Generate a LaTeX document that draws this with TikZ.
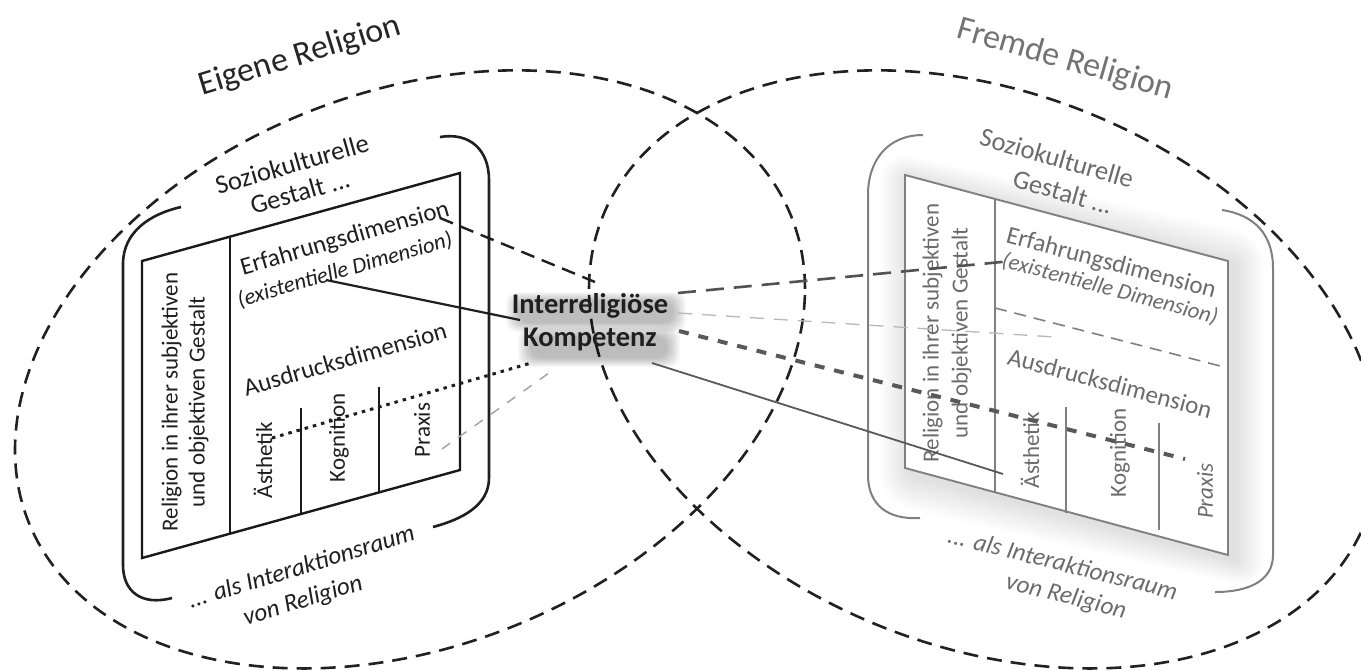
\documentclass[tikz,border=0pt]{standalone}
\usepackage{fontspec}
\setmainfont{Carlito}
\usetikzlibrary{calc}
\begin{document}
\begin{tikzpicture}[x=1pt,y=-1pt,
  ell/.style={draw=black!87, line width=2.6pt, dash pattern=on 15pt off 9pt},
  lline/.style={draw=black!90, line width=2.4pt},
  rline/.style={draw=black!50, line width=1.9pt},
  lbr/.style={draw=black!88, line width=2.6pt},
  rbr/.style={draw=black!50, line width=2pt},
  ltx/.style={inner sep=0pt, text=black!88, font=\fontsize{25}{27}\selectfont},
  rtx/.style={inner sep=0pt, text=black!58, font=\fontsize{25}{27}\selectfont},
  lit/.style={ltx, font=\fontsize{22.5}{24}\selectfont\itshape},
  rit/.style={rtx, font=\fontsize{22.5}{24}\selectfont\itshape},
  lvt/.style={ltx, rotate=90, align=center, font=\fontsize{23}{27}\selectfont},
  rvt/.style={rtx, rotate=90, align=center, font=\fontsize{23}{29}\selectfont},
  ttl/.style={inner sep=0pt, font=\fontsize{34}{36}\selectfont},
  ikt/.style={inner sep=0pt, align=center, font=\fontsize{28.5}{33}\selectfont\bfseries},
  solidc/.style={line width=2.2pt, draw=black!88},
  dashc/.style={line width=2.4pt, draw=black!88, dash pattern=on 14pt off 8pt},
  dotc/.style={line width=3pt, draw=black!88, dash pattern=on 3.5pt off 5pt},
  lgdash/.style={line width=1.5pt, draw=black!35, dash pattern=on 10pt off 10pt},
  rdash/.style={line width=2.6pt, draw=black!68, dash pattern=on 18pt off 10pt},
  rthin/.style={line width=1.3pt, draw=black!28, dash pattern=on 14pt off 10pt},
  rthick/.style={line width=4pt, draw=black!65, dash pattern=on 10pt off 10pt},
  rsolid/.style={line width=1.8pt, draw=black!65},
]
\useasboundingbox (0,0) rectangle (1361,670);
\clip (0,0) rectangle (1361,670);
\fill[white] (0,0) rectangle (1361,670);

% ---------- right box shadow ----------
\coordinate (rTL) at (905,175);
\coordinate (rTR) at (1228,261);
\coordinate (rBR) at (1228,555);
\coordinate (rBL) at (905,468);
\foreach \r in {3,6,...,30}{
  \fill[black, opacity=0.013, rounded corners=\r pt]
    ($(rTL)+(-\r+6,-\r+5)$) -- ($(rTR)+(\r+6,-\r+5)$) --
    ($(rBR)+(\r+6,\r+5)$) -- ($(rBL)+(-\r+6,\r+5)$) -- cycle;
}
\fill[white] (rTL) -- (rTR) -- (rBR) -- (rBL) -- cycle;

% ---------- ellipses ----------
\draw[ell] plot[domain=0:360, samples=200, smooth, variable=\t]
  ({410+395*cos(\t)},{369.4-80.6*cos(\t)-288*sin(\t)});
\draw[ell] plot[domain=0:360, samples=200, smooth, variable=\t]
  ({984-395*cos(\t)},{369.4-80.6*cos(\t)-288*sin(\t)});

% ---------- titles ----------
\node[ttl, text=black!85, rotate=17] (eig) at (300,56) {Eigene Religion};
\node[ttl, text=black!55, rotate=-16] (fre) at (1065,60) {Fremde Religion};

% ---------- left brackets ----------
\draw[lbr] (181,207) .. controls (150,214) and (123,232) .. (123,264)
  -- (123,565) .. controls (123,592) and (142,606) .. (172,598);
\draw[lbr] (440,137) .. controls (470,132) and (489,150) .. (489,180)
  -- (489,478) .. controls (489,505) and (463,519) .. (433,527);

% ---------- left table ----------
\coordinate (lTL) at (142,261);
\coordinate (lTR) at (460,173);
\coordinate (lBR) at (460,470);
\coordinate (lBL) at (142,558);
\draw[lline] (lTL) -- (lTR) -- (lBR) -- (lBL) -- cycle;
\draw[lline] (230,237) -- (230,534);
\draw[lline] (301,408) -- (301,514);
\draw[lline] (379,387) -- (379,492);

% ---------- left texts ----------
\node[ltx, font=\fontsize{26.5}{28}\selectfont, rotate=16] (lsoz) at (292,164) {Soziokulturelle};
\node[ltx, font=\fontsize{26.5}{28}\selectfont, rotate=16] (lges) at (300,192) {Gestalt ...};
\node[ltx, rotate=16] (lerf) at (345,239) {Erfahrungsdimension};
\node[lit, rotate=16] (lexi) at (345,270) {(existentielle Dimension)};
\node[ltx, rotate=16] (laus) at (345,359) {Ausdrucksdimension};
\node[lvt] (lrel) at (185,402) {Religion in ihrer subjektiven\\und objektiven Gestalt};
\node[lvt] (last) at (263,460) {Ästhetik};
\node[lvt] (lkog) at (339,438) {Kognition};
\node[lvt] (lpra) at (422,430) {Praxis};
\node[lit, font=\fontsize{25}{27}\selectfont\itshape, rotate=17] (lals) at (301,566) {... als Interaktionsraum};
\node[lit, font=\fontsize{25}{27}\selectfont\itshape, rotate=17] (lvon) at (303,601) {von Religion};

% ---------- right brackets ----------
\draw[rbr] (923,135) .. controls (888,135) and (868,160) .. (868,195)
  -- (868,475) .. controls (868,505) and (888,520) .. (920,518);
\draw[rbr] (1222,210) .. controls (1255,215) and (1273,235) .. (1273,268)
  -- (1273,555) .. controls (1273,580) and (1250,592) .. (1215,592);

% ---------- right table ----------
\draw[rline] (rTL) -- (rTR) -- (rBR) -- (rBL) -- cycle;
\draw[rline] (995,199) -- (995,492);
\draw[rline, line width=1.6pt, dash pattern=on 12pt off 8pt] (995,308) -- (1228,368);
\draw[rline] (1066,407) -- (1066,513);
\draw[rline] (1159,423) -- (1159,530);

% ---------- right texts ----------
\node[rtx, font=\fontsize{26.5}{28}\selectfont, rotate=-16] (rsoz) at (1057,158) {Soziokulturelle};
\node[rtx, font=\fontsize{26.5}{28}\selectfont, rotate=-16] (rges) at (1063,192) {Gestalt ...};
\node[rtx, rotate=-15] (rerf) at (1111,264) {Erfahrungsdimension};
\node[rit, rotate=-15] (rexi) at (1110,289) {(existentielle Dimension)};
\node[rtx, rotate=-15] (raus) at (1110,383) {Ausdrucksdimension};
\node[rvt] (rrel) at (947,333) {Religion in ihrer subjektiven\\und objektiven Gestalt};
\node[rvt] (rast) at (1030,450) {Ästhetik};
\node[rvt] (rkog) at (1120,453) {Kognition};
\node[rvt, font=\fontsize{23}{26}\selectfont\itshape] (rpra) at (1205,491) {Praxis};
\node[rit, font=\fontsize{25}{27}\selectfont\itshape, rotate=-14] (rals) at (1063,563) {... als Interaktionsraum};
\node[rit, font=\fontsize{25}{27}\selectfont\itshape, rotate=-14] (rvon) at (1066,597) {von Religion};

% ---------- centre glow ----------
\foreach \r in {1,2,...,10}{
  \fill[black, opacity=0.026, rounded corners=11pt]
    (520-1.4*\r,302-\r) rectangle (672+1.4*\r,322+\r);
  \fill[black, opacity=0.026, rounded corners=11pt]
    (532-1.4*\r,337-\r) rectangle (666+1.4*\r,357+\r);
}
\node[ikt, text=black!88] (ik) at (590,322) {Interreligiöse\\Kompetenz};

% ---------- connector end points ----------
\coordinate (a1) at (440,218);  \coordinate (k1) at (595,282);
\coordinate (a2) at (326,280);  \coordinate (k2) at (520,320);
\coordinate (a3) at (272,438);  \coordinate (k3) at (531,363);
\coordinate (a4) at (442,449);  \coordinate (k4) at (556,368);
\coordinate (k5) at (678,293);  \coordinate (b5) at (1012,261);
\coordinate (k6) at (678,313);  \coordinate (b6) at (1055,337);
\coordinate (k7) at (679,331);  \coordinate (b7) at (1185,459);
\coordinate (k8) at (652,363);  \coordinate (b8) at (1003,474);

\draw[dashc] (a1) -- (k1);
\draw[solidc] (a2) -- (k2);
\draw[dotc] (a3) -- (k3);
\draw[lgdash] (a4) -- (k4);
\draw[rdash] (k5) -- (b5);
\draw[rthin] (k6) -- (b6);
\draw[rthick] (k7) -- (b7);
\draw[rsolid] (k8) -- (b8);
\end{tikzpicture}
\end{document}
